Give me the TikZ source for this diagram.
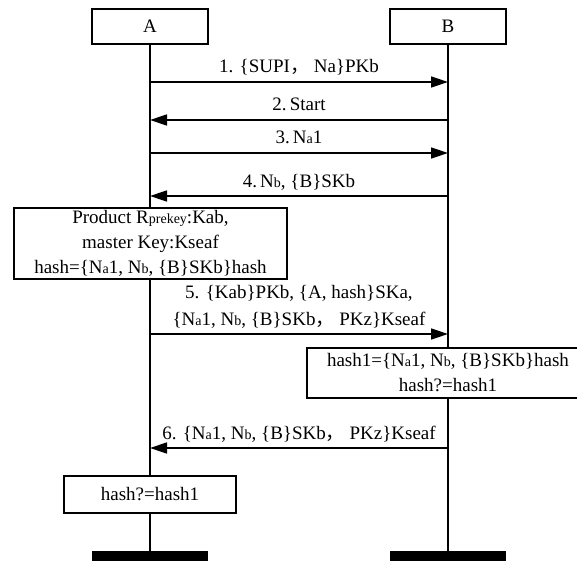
\documentclass[tikz,border=0pt]{standalone}
\usepackage{fontspec}
\setmainfont{Liberation Serif}
\newfontfamily\cjk{Noto Sans CJK SC}
\usetikzlibrary{arrows.meta}
\newcommand\sm[1]{{\fontsize{14}{14}\selectfont #1}}
\newcommand\fw{{\cjk ，}}
\begin{document}
\begin{tikzpicture}[x=1pt,y=-1pt,
 every node/.style={font=\fontsize{19}{25}\selectfont},
 actor/.style={draw, line width=1.5pt, fill=white, minimum width=116pt, minimum height=35pt, inner sep=0pt},
 endbar/.style={fill=black, minimum width=116pt, minimum height=10pt, inner sep=0pt},
 note/.style={draw, line width=1.5pt, fill=white, align=center, inner sep=0pt},
 life/.style={line width=1.5pt},
 msg/.style={line width=1.5pt, -{Triangle[length=17pt,width=11pt]}},
 lbl/.style={anchor=base, yshift=9pt, inner sep=0pt},
 lbltop/.style={anchor=base, yshift=36pt, inner sep=0pt}]
\useasboundingbox (0,0) rectangle (577,561);
\node[actor] (A) at (150,26.5) {A};
\node[actor] (B) at (448,26.5) {B};
\node[endbar] (endA) at (150,556) {};
\node[endbar] (endB) at (448,556) {};
\draw[life] (A) -- (endA);
\draw[life] (B) -- (endB);
% notes
\node[note, minimum width=273pt, minimum height=71pt] (P) at (150.5,243.5)
  {Product R\sm{prekey}:Kab,\\ master Key:Kseaf\\ hash=\{N\sm{a}1, N\sm{b}, \{B\}SKb\}hash};
\node[note, minimum width=282pt, minimum height=50pt] (H1) at (448,373)
  {hash1=\{N\sm{a}1, N\sm{b}, \{B\}SKb\}hash\\ hash?=hash1};
\node[note, minimum width=172pt, minimum height=37pt] (H2) at (150,494.5) {hash?=hash1};
% message points
\coordinate (a1) at (A.center |- 0,82);  \coordinate (b1) at (B.center |- 0,82);
\coordinate (a2) at (A.center |- 0,120); \coordinate (b2) at (B.center |- 0,120);
\coordinate (a3) at (A.center |- 0,153); \coordinate (b3) at (B.center |- 0,153);
\coordinate (a4) at (A.center |- 0,196); \coordinate (b4) at (B.center |- 0,196);
\coordinate (a5) at (A.center |- 0,334); \coordinate (b5) at (B.center |- 0,334);
\coordinate (a6) at (A.center |- 0,448); \coordinate (b6) at (B.center |- 0,448);
\draw[msg] (a1) -- (b1) node[lbl, midway] {1. \{SUPI\fw\ Na\}PKb};
\draw[msg] (b2) -- (a2) node[lbl, midway] {2.\,Start};
\draw[msg] (a3) -- (b3) node[lbl, midway] {3.\,N\sm{a}1};
\draw[msg] (b4) -- (a4) node[lbl, midway] {4.\,N\sm{b}, \{B\}SKb};
\draw[msg] (a5) -- (b5) node[lbl, midway] {\{N\sm{a}1, N\sm{b}, \{B\}SKb\fw\ PKz\}Kseaf}
                        node[lbltop, midway] {5. \{Kab\}PKb, \{A, hash\}SKa,};
\draw[msg] (b6) -- (a6) node[lbl, midway] {6. \{N\sm{a}1, N\sm{b}, \{B\}SKb\fw\ PKz\}Kseaf};
\end{tikzpicture}
\end{document}
